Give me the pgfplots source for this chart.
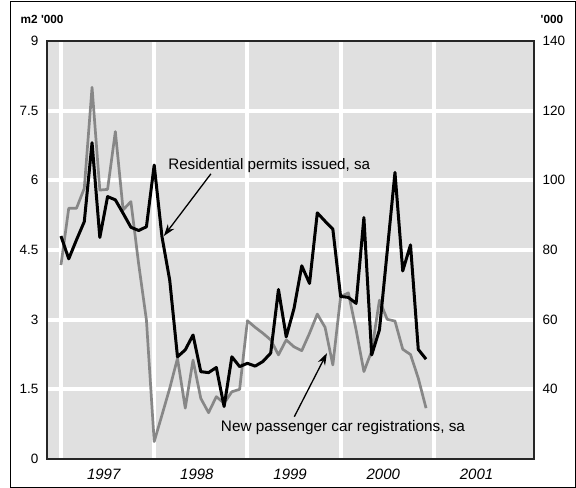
\documentclass[border=0pt]{standalone}
\usepackage{fontspec}
\setmainfont{Liberation Sans}[Ligatures=TeXOff]
\usepackage{pgfplots}
\pgfplotsset{compat=1.18}
\usetikzlibrary{arrows.meta}
\definecolor{bg}{RGB}{224,224,224}
\definecolor{carg}{RGB}{135,135,135}
\pgfplotstableread{
m v
0 4.80
1 4.31
2 4.72
3 5.11
4 6.81
5 4.77
6 5.65
7 5.58
8 5.29
9 4.99
10 4.92
11 5.00
12 6.33
13 4.79
14 3.85
15 2.20
16 2.35
17 2.67
18 1.88
19 1.86
20 1.97
21 1.13
22 2.20
23 1.99
24 2.06
25 2.00
26 2.10
27 2.28
28 3.65
29 2.63
30 3.24
31 4.16
32 3.78
33 5.30
34 5.12
35 4.95
36 3.50
37 3.48
38 3.35
39 5.20
40 2.24
41 2.78
42 4.47
43 6.17
44 4.05
45 4.61
46 2.36
47 2.15
}\permits
\pgfplotstableread{
m v
0 75.7
1 92.0
2 92.0
3 97.7
4 126.7
5 97.2
6 97.4
7 114.0
8 91.5
9 93.9
10 76.0
11 59.9
12 25.0
13 32.6
14 40.3
15 48.9
16 34.6
17 48.4
18 37.4
19 33.3
20 37.9
21 36.0
22 39.3
23 40.0
24 59.7
25 57.8
26 56.1
27 54.2
28 49.9
29 54.2
30 52.2
31 51.1
32 56.1
33 61.6
34 57.8
35 47.0
36 66.6
37 67.7
38 57.0
39 45.1
40 51.0
41 65.6
42 60.1
43 59.6
44 51.5
45 50.0
46 43.2
47 34.6
}\cars
\begin{document}
\begin{tikzpicture}
\path[use as bounding box] (0bp,0bp) rectangle (576bp,488bp);
\draw[line width=1bp] (10bp,1bp) rectangle (575bp,486.5bp);
\node[anchor=west,inner sep=0,font=\bfseries\fontsize{11.8bp}{14bp}\selectfont] at (20.5bp,469bp) {m2 '000};
\node[anchor=west,inner sep=0,font=\bfseries\fontsize{11.8bp}{14bp}\selectfont] at (540.5bp,469bp) {'000};
\begin{axis}[
  at={(47bp,29bp)}, anchor=south west, scale only axis,
  width=487bp, height=418bp,
  xmin=-1.8, xmax=60.9, ymin=20, ymax=140,
  axis background/.style={fill=bg},
  axis line style={line width=1.2bp, draw=black!85},
  xtick={5.5,17.5,29.5,41.5,53.5},
  xticklabels={1997,1998,1999,2000,2001},
  minor xtick={0,12,24,36,48},
  ytick={40,60,80,100,120,140},
  minor ytick={40,60,80,100,120},
  xminorgrids, yminorgrids,
  every axis grid/.style={draw=white, line width=4bp},
  minor grid style={draw=white, line width=4bp},
  major tick length=0, minor tick length=0,
  yticklabel pos=right,
  /pgf/number format/assume math mode=true,
  yticklabel style={font=\fontsize{13.5bp}{16bp}\selectfont, xshift=5bp},
  xticklabel style={font=\itshape\fontsize{15bp}{18bp}\selectfont, yshift=-7bp},
]
\addplot[carg, line width=2.7bp, line join=round] table[x=m,y=v] {\cars};
\end{axis}
\begin{axis}[
  at={(47bp,29bp)}, anchor=south west, scale only axis,
  width=487bp, height=418bp,
  xmin=-1.8, xmax=60.9, ymin=0, ymax=9,
  hide x axis,
  axis y line*=left,
  axis line style={line width=1.2bp, draw=black!85},
  ytick={0,1.5,3,4.5,6,7.5,9},
  yticklabels={0,1.5,3,4.5,6,7.5,9},
  major tick length=0,
  yticklabel style={font=\fontsize{13.5bp}{16bp}\selectfont, xshift=-5bp},
  clip=false,
]
\addplot[black, line width=3bp, line join=round] table[x=m,y=v] {\permits};
\node[anchor=base west, inner sep=0, font=\fontsize{15.2bp}{18bp}\selectfont] at (axis cs:13.79,6.24) {Residential permits issued, sa};
\node[anchor=base west, inner sep=0, font=\fontsize{15.3bp}{18bp}\selectfont] at (axis cs:20.57,0.60) {New passenger car registrations, sa};
\draw[-{Stealth[length=12bp,width=8bp]}, line width=1.3bp] (axis cs:19.3,6.14) -- (axis cs:13.24,4.80);
\draw[-{Stealth[length=12bp,width=8bp]}, line width=1.3bp] (axis cs:30.04,0.91) -- (axis cs:34.24,2.28);
\end{axis}
\end{tikzpicture}
\end{document}
